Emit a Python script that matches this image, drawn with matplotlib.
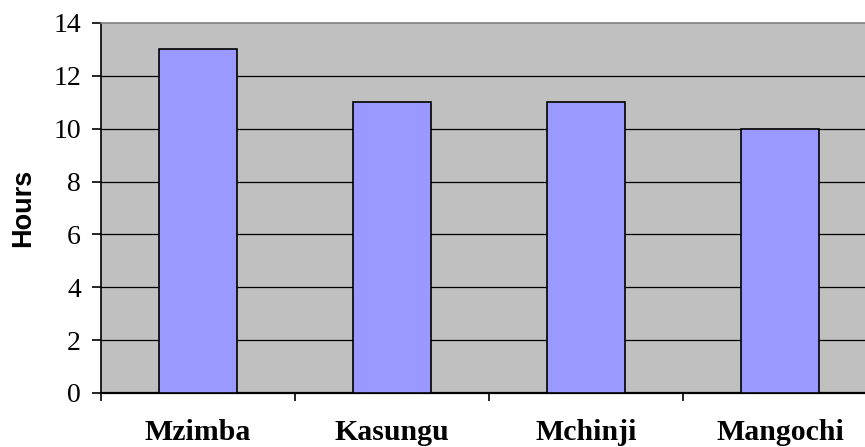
import matplotlib
matplotlib.use("Agg")
import matplotlib.pyplot as plt
import numpy as np

categories = ["Mzimba", "Kasungu", "Mchinji", "Mangochi"]
hours = [13, 11, 11, 10]
yticks = [0, 2, 4, 6, 8, 10, 12, 14]

fig = plt.figure(figsize=(8.65, 4.47), dpi=100)
W, H = 865, 447
left, right, top, bottom = 101, 877, 23, 393
ax = fig.add_axes([left / W, (H - bottom) / H, (right - left) / W, (bottom - top) / H])
ax.set_facecolor("#C0C0C0")

x = np.arange(len(categories))
ax.bar(x, hours, width=0.4, color="#9999FF", edgecolor="black", linewidth=1.2, zorder=3)

ax.set_xlim(-0.5, len(categories) - 0.5)
ax.set_ylim(0, 14)
ax.set_yticks(yticks)
ax.set_yticklabels([str(v) for v in yticks], family="Liberation Serif", fontsize=20)
for v in yticks[1:-1]:
    ax.axhline(v, color="black", linewidth=0.9, zorder=1)

ax.set_xticks(np.arange(len(categories) + 1) - 0.5)
ax.set_xticklabels([])
ax.set_xticks(x, minor=True)
ax.set_xticklabels(categories, minor=True, family="Liberation Serif", fontweight="bold", fontsize=21.5)
ax.tick_params(axis="x", which="minor", length=0, pad=19)
ax.tick_params(axis="x", which="major", length=6, width=1.2, direction="out")
ax.tick_params(axis="y", length=6.5, width=1.2, direction="out", pad=8)

ax.set_ylabel("Hours", family="Liberation Sans", fontweight="bold", fontsize=19.5, labelpad=12)

ax.spines["right"].set_visible(False)
ax.spines["top"].set_color("#808080")
ax.spines["top"].set_linewidth(1.2)
ax.spines["left"].set_linewidth(1.2)
ax.spines["bottom"].set_linewidth(1.6)

fig.savefig("out.png", dpi=100)
